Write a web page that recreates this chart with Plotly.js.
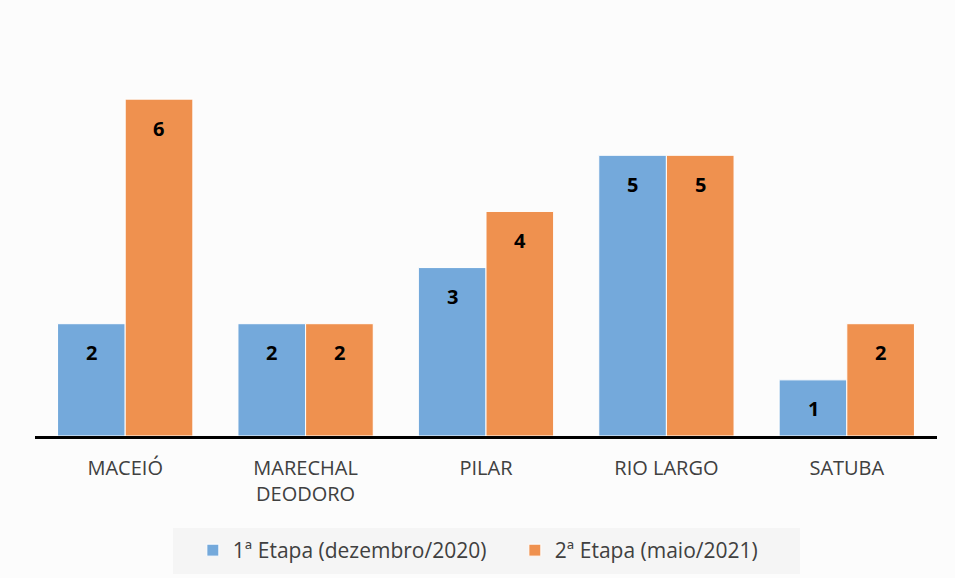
<!DOCTYPE html>
<html>
<head>
<meta charset="utf-8">
<script src="https://cdn.plot.ly/plotly-3.0.1.min.js"></script>
<style>html,body{margin:0;padding:0;background:#fff;}</style>
</head>
<body>
<div id="chart" style="width:955px;height:578px;"></div>
<script>
const categories = ["MACEIÓ", "MARECHAL<br>DEODORO", "PILAR", "RIO LARGO", "SATUBA"];
const etapa1 = [2, 2, 3, 5, 1];
const etapa2 = [6, 2, 4, 5, 2];
const seriesNames = ["1ª Etapa (dezembro/2020)", "2ª Etapa (maio/2021)"];
const colors = ["#74A9DB", "#EF914F"];

const FONT = "'Open Sans', sans-serif";

const traces = [etapa1, etapa2].map((vals, i) => ({
  type: "bar",
  name: seriesNames[i],
  x: categories,
  y: vals,
  marker: { color: colors[i], line: { color: "#ffffff", width: 1 } },
  hoverinfo: "skip"
}));

const annotations = [];
[etapa1, etapa2].forEach((vals, i) => {
  vals.forEach((v, j) => {
    annotations.push({
      x: categories[j], y: v, xref: "x", yref: "y",
      text: "<b>" + v + "</b>", showarrow: false,
      xshift: i === 0 ? -33.75 : 33.75, yshift: -29,
      font: { family: FONT, size: 20, color: "#000000" }
    });
  });
});

const layout = {
  width: 955, height: 578,
  paper_bgcolor: "#fcfcfc", plot_bgcolor: "#fcfcfc",
  margin: { l: 35, r: 18, t: 43, b: 142 },
  barmode: "group", bargap: 0.25, bargroupgap: 0,
  xaxis: {
    automargin: false,
    showline: true, linecolor: "#000000", linewidth: 3,
    ticks: "", ticklabelstandoff: 12,
    tickfont: { family: FONT, size: 20, color: "#404040" },
    showgrid: false, zeroline: false
  },
  yaxis: {
    automargin: false,
    range: [0, 7], visible: false, showgrid: false, zeroline: false
  },
  showlegend: true,
  legend: {
    orientation: "h", xref: "container", yref: "container",
    x: 0.175 * 902 / 955 + 35 / 955, xanchor: "left",
    y: (578 - 530) / 578, yanchor: "top",
    bgcolor: "rgba(0,0,0,0)", font: { family: FONT, size: 21, color: "#404040" },
    entrywidth: 277, itemwidth: 30, traceorder: "normal"
  },
  shapes: [{
    type: "rect", xref: "paper", yref: "paper", layer: "below",
    x0: (173 - 35) / 902, x1: (800 - 35) / 902,
    y0: -(574 - 436) / 393, y1: -(528 - 436) / 393,
    fillcolor: "#f5f5f5", line: { width: 0 }
  }],
  annotations: annotations
};

Plotly.newPlot("chart", traces, layout, { displayModeBar: false, staticPlot: true });
</script>
</body>
</html>
